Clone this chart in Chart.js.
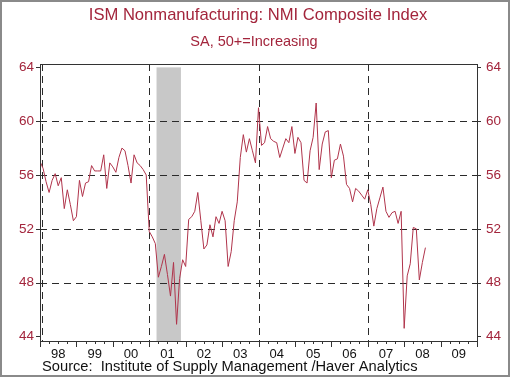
<!DOCTYPE html>
<html>
<head>
<meta charset="utf-8">
<script src="https://cdn.jsdelivr.net/npm/chart.js@4"></script>
<style>
  body { margin: 0; background: #fff; }
  canvas { display: block; }
</style>
</head>
<body>
<canvas id="nmiChart" width="510" height="377"></canvas>
<script>
// ISM NMI composite, monthly from Jan 1998
const startYear = 1998;
const nmi = [
  57.0, 56.5, 55.5, 54.7, 55.6, 56.1, 55.2, 55.8, 53.5, 54.9, 53.8, 52.6,
  52.9, 55.6, 54.4, 55.4, 55.5, 56.7, 56.3, 56.3, 56.3, 57.5, 55.0, 56.9,
  56.6, 56.2, 57.3, 58.0, 57.8, 56.7, 55.4, 57.5, 56.9, 56.7, 56.4, 56.0,
  51.8, 51.4, 50.9, 48.4, 49.2, 50.1, 48.6, 47.0, 49.5, 44.9, 48.3, 49.7,
  49.2, 52.7, 52.9, 53.3, 54.7, 52.6, 50.5, 50.8, 52.3, 51.4, 52.9, 52.4,
  53.3, 52.6, 49.2, 50.3, 52.6, 54.0, 57.3, 59.0, 57.7, 58.7, 57.8, 56.9,
  61.0, 58.2, 58.4, 59.6, 58.7, 58.5, 58.4, 57.3, 58.0, 58.7, 58.4, 59.6,
  57.6, 58.8, 58.4, 55.6, 55.4, 57.8, 58.8, 61.35, 56.4, 58.3, 59.2, 59.3,
  55.8, 57.1, 57.2, 58.3, 57.4, 55.3, 55.0, 54.0, 55.0, 54.8, 54.5, 54.2,
  54.9, 53.8, 52.2, 53.5, 54.3, 55.1, 53.3, 52.85, 53.2, 53.3, 52.4, 53.3,
  44.6, 48.5, 49.4, 52.1, 52.0, 48.2, 49.5, 50.6
];
const yearLabels = ["98", "99", "00", "01", "02", "03", "04", "05", "06", "07", "08", "09"];
const yTicks = [44, 48, 52, 56, 60, 64];
const hGrid = [48, 52, 56, 60];
const vGridYears = [1998, 2001, 2004, 2007];
const recession = [2001.2, 2001.87]; // Mar-Nov 2001

const red = "#a3253c";
const font = "'Liberation Sans', Arial, sans-serif";

const points = nmi.map((v, i) => ({ x: startYear + i / 12, y: v }));

const decor = {
  id: "decor",
  beforeDatasetsDraw(chart) {
    const { ctx, chartArea: a, scales } = chart;
    const x = scales.x, y = scales.y;
    ctx.save();
    // recession band
    ctx.fillStyle = "#c8c8c8";
    const x0 = x.getPixelForValue(recession[0]);
    const x1 = x.getPixelForValue(recession[1]);
    ctx.fillRect(x0, y.getPixelForValue(64), x1 - x0, a.bottom - y.getPixelForValue(64));
    // dashed grid
    ctx.strokeStyle = "#2a2a2a";
    ctx.lineWidth = 1;
    ctx.setLineDash([7, 5]);
    hGrid.forEach((v) => {
      const py = Math.round(y.getPixelForValue(v)) + 0.5;
      ctx.beginPath();
      ctx.moveTo(a.left, py);
      ctx.lineTo(a.right, py);
      ctx.stroke();
    });
    vGridYears.forEach((yr) => {
      const px = Math.round(x.getPixelForValue(yr)) + (yr === startYear ? 2.5 : 0.5);
      ctx.beginPath();
      ctx.moveTo(px, a.top);
      ctx.lineTo(px, a.bottom);
      ctx.stroke();
    });
    ctx.restore();
  },
  afterDraw(chart) {
    const { ctx, chartArea: a, scales } = chart;
    const x = scales.x, y = scales.y;
    ctx.save();
    // frame
    ctx.strokeStyle = "#333";
    ctx.lineWidth = 1;
    ctx.strokeRect(Math.round(a.left) + 0.5, Math.round(a.top) + 0.5,
      Math.round(a.right - a.left), Math.round(a.bottom - a.top));
    // y ticks, both sides
    yTicks.forEach((v) => {
      const py = Math.round(y.getPixelForValue(v)) + 0.5;
      ctx.beginPath();
      ctx.moveTo(a.left - 4, py);
      ctx.lineTo(a.left, py);
      ctx.moveTo(a.right, py);
      ctx.lineTo(a.right + 4, py);
      ctx.stroke();
    });
    // x ticks: years long, quarters short
    for (let q = 0; q <= (yearLabels.length) * 4; q++) {
      const px = Math.round(x.getPixelForValue(startYear + q / 4)) + 0.5;
      ctx.beginPath();
      ctx.moveTo(px, a.bottom);
      ctx.lineTo(px, a.bottom + (q % 4 === 0 ? 6 : 3));
      ctx.stroke();
    }
    // titles
    ctx.fillStyle = red;
    ctx.textAlign = "center";
    ctx.textBaseline = "middle";
    ctx.font = "16.6px " + font;
    ctx.fillText("ISM Nonmanufacturing: NMI Composite Index", 258, 15);
    ctx.font = "14.5px " + font;
    ctx.fillText("SA, 50+=Increasing", 254, 42);
    // source
    ctx.fillStyle = "#111";
    ctx.textAlign = "left";
    ctx.font = "14.7px " + font;
    ctx.fillText("Source:  Institute of Supply Management /Haver Analytics", 42, 367);
    // outer border
    ctx.strokeStyle = "#8a8a8a";
    ctx.lineWidth = 2;
    ctx.strokeRect(1, 1, 508, 375);
    ctx.restore();
  }
};

const yAxis = (pos, width, pad) => ({
  type: "linear",
  position: pos,
  min: 43.66,
  max: 64.25,
  afterBuildTicks: (s) => { s.ticks = yTicks.map((v) => ({ value: v })); },
  afterFit: (s) => { s.width = width; },
  grid: { display: false, drawTicks: false },
  border: { display: false },
  ticks: { color: red, padding: pad, font: { size: 13.5, family: font } }
});

new Chart(document.getElementById("nmiChart"), {
  type: "line",
  data: {
    datasets: [
      {
        data: points,
        borderColor: "#b0344b",
        borderWidth: 1,
        pointRadius: 0,
        tension: 0,
        yAxisID: "y"
      }
    ]
  },
  options: {
    responsive: false,
    animation: false,
    layout: { padding: { top: 64, left: 0, right: 0, bottom: 0 } },
    plugins: { legend: { display: false }, tooltip: { enabled: false } },
    scales: {
      x: {
        type: "linear",
        min: startYear,
        max: startYear + yearLabels.length,
        afterBuildTicks: (s) => {
          s.ticks = yearLabels.map((l, k) => ({ value: startYear + k + 0.5 }));
        },
        afterFit: (s) => { s.height = 36; },
        grid: { display: false, drawTicks: false },
        border: { display: false },
        ticks: {
          color: "#111",
          padding: 6,
          maxRotation: 0,
          autoSkip: false,
          font: { size: 13, family: font },
          callback: (v, idx) => yearLabels[idx]
        }
      },
      y: yAxis("left", 40, 6),
      y2: yAxis("right", 33, 9)
    }
  },
  plugins: [decor]
});
</script>
</body>
</html>
